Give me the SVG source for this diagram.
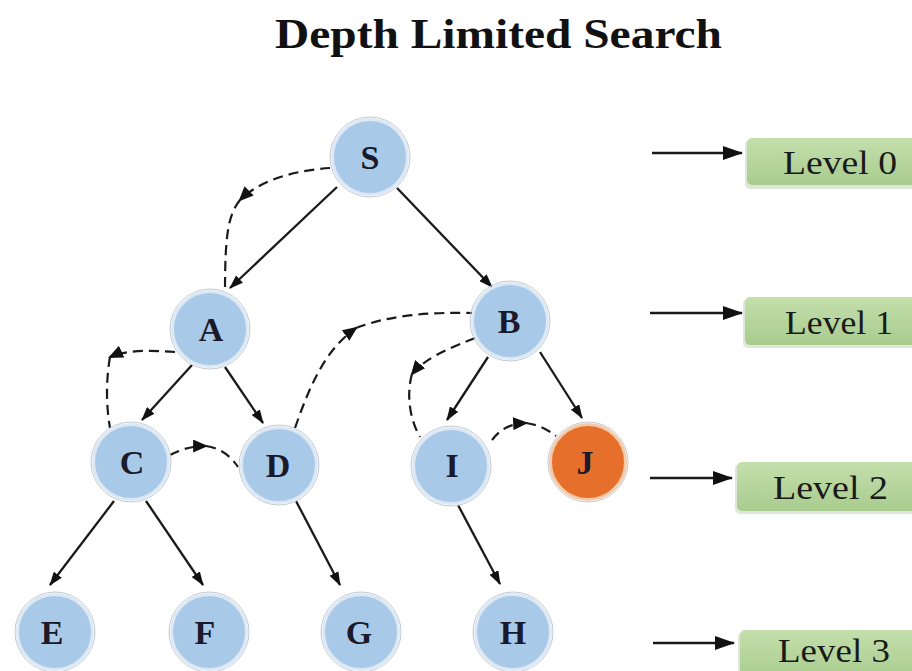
<svg xmlns="http://www.w3.org/2000/svg" width="912" height="671" viewBox="0 0 912 671">
<defs>
<marker id="ah" viewBox="0 0 14 10" refX="13" refY="5" markerWidth="14" markerHeight="10" markerUnits="userSpaceOnUse" orient="auto">
<path d="M0,0 L14,5 L0,10 Z" fill="#111"/>
</marker>
<marker id="ahl" viewBox="0 0 20 14" refX="19" refY="7" markerWidth="20" markerHeight="14" markerUnits="userSpaceOnUse" orient="auto">
<path d="M0,0 L20,7 L0,14 Z" fill="#111"/>
</marker>
<marker id="ahd" viewBox="0 0 14 12" refX="12" refY="6" markerWidth="15" markerHeight="13" markerUnits="userSpaceOnUse" orient="auto">
<path d="M0,0 L14,6 L0,12 Z" fill="#111"/>
</marker>
<linearGradient id="green" x1="0" y1="0" x2="0" y2="1">
<stop offset="0" stop-color="#c4dfac"/>
<stop offset="1" stop-color="#a8cc8e"/>
</linearGradient>
</defs>
<style>
.node circle.fill{fill:#a9c9e9;stroke:#dce8f4;stroke-width:3}
.node circle.rim{fill:none;stroke:#c3cad2;stroke-width:1}
.node.goal circle.fill{fill:#e66f2b;stroke:#f3c9a8}
.node text{font-family:"Liberation Serif","Times New Roman",serif;font-weight:bold;font-size:34px;fill:#1a1a2a;text-anchor:middle}
.edge{fill:none;stroke:#1a1a1a;stroke-width:2.3}
.dash{fill:none;stroke:#1a1a1a;stroke-width:2.2;stroke-dasharray:10 6}
.lvl rect.box{fill:url(#green)}
.lvl rect.sh{fill:#dfe6da}
.lvl text{font-family:"Liberation Serif","Times New Roman",serif;font-size:34px;fill:#1a1a1a}
.title{font-family:"Liberation Serif","Times New Roman",serif;font-weight:bold;font-size:42px;fill:#111}
</style>
<rect width="912" height="671" fill="#ffffff"/>
<text class="title" x="275" y="48" textLength="447" lengthAdjust="spacingAndGlyphs">Depth Limited Search</text>

<g id="connectors">
<path class="edge" d="M337,187 L230,288" marker-end="url(#ah)"/>
<path class="edge" d="M397,188 L492,287" marker-end="url(#ah)"/>
<path class="edge" d="M192,365 L142,420" marker-end="url(#ah)"/>
<path class="edge" d="M225,367 L263,423" marker-end="url(#ah)"/>
<path class="edge" d="M488,357 L447,420" marker-end="url(#ah)"/>
<path class="edge" d="M540,352 L582,418" marker-end="url(#ah)"/>
<path class="edge" d="M114,501 L50,585" marker-end="url(#ah)"/>
<path class="edge" d="M146,501 L203,585" marker-end="url(#ah)"/>
<path class="edge" d="M296,501 L340,585" marker-end="url(#ah)"/>
<path class="edge" d="M458,505 L500,584" marker-end="url(#ah)"/>
<path class="edge" d="M652,153 L742,153" marker-end="url(#ahl)"/>
<path class="edge" d="M650,313 L742,313" marker-end="url(#ahl)"/>
<path class="edge" d="M650,478 L732,478" marker-end="url(#ahl)"/>
<path class="edge" d="M653,643 L734,643" marker-end="url(#ahl)"/>
<path class="dash" d="M330,168 C300,170 262,178 240,200" marker-end="url(#ahd)"/>
<path class="dash" d="M240,200 C228,215 225,235 225,292"/>
<path class="dash" d="M175,352 C150,350 125,350 110,357" marker-end="url(#ahd)"/>
<path class="dash" d="M110,357 C106,380 106,405 110,428"/>
<path class="dash" d="M170,455 C180,450 190,446 206,446" marker-end="url(#ahd)"/>
<path class="dash" d="M206,446 C222,448 232,458 238,467"/>
<path class="dash" d="M295,428 C310,385 325,350 356,328" marker-end="url(#ahd)"/>
<path class="dash" d="M356,328 C390,315 430,312 472,313"/>
<path class="dash" d="M475,338 C450,348 425,358 412,374" marker-end="url(#ahd)"/>
<path class="dash" d="M412,374 C406,395 410,420 420,437"/>
<path class="dash" d="M492,440 C500,430 508,424 526,423" marker-end="url(#ahd)"/>
<path class="dash" d="M526,423 C540,425 548,430 556,436"/>
</g>

<g id="node-S" class="node"><circle class="rim" cx="370" cy="157" r="40"/><circle class="fill" cx="370" cy="157" r="37.5"/><text x="370" y="169">S</text></g>
<g id="node-A" class="node"><circle class="rim" cx="210" cy="329" r="40"/><circle class="fill" cx="210" cy="329" r="37.5"/><text x="211" y="341">A</text></g>
<g id="node-B" class="node"><circle class="rim" cx="510" cy="321" r="40"/><circle class="fill" cx="510" cy="321" r="37.5"/><text x="509" y="333">B</text></g>
<g id="node-C" class="node"><circle class="rim" cx="131" cy="462" r="40"/><circle class="fill" cx="131" cy="462" r="37.5"/><text x="132" y="474">C</text></g>
<g id="node-D" class="node"><circle class="rim" cx="279" cy="465" r="40"/><circle class="fill" cx="279" cy="465" r="37.5"/><text x="278" y="477">D</text></g>
<g id="node-I" class="node"><circle class="rim" cx="451" cy="466" r="40"/><circle class="fill" cx="451" cy="466" r="37.5"/><text x="452" y="477">I</text></g>
<g id="node-J" class="node goal"><circle class="rim" cx="588" cy="462" r="40"/><circle class="fill" cx="588" cy="462" r="37.5"/><text x="585" y="474">J</text></g>
<g id="node-E" class="node"><circle class="rim" cx="55" cy="632" r="40"/><circle class="fill" cx="55" cy="632" r="37.5"/><text x="52" y="644">E</text></g>
<g id="node-F" class="node"><circle class="rim" cx="209" cy="632" r="40"/><circle class="fill" cx="209" cy="632" r="37.5"/><text x="205" y="644">F</text></g>
<g id="node-G" class="node"><circle class="rim" cx="361" cy="632" r="40"/><circle class="fill" cx="361" cy="632" r="37.5"/><text x="359" y="644">G</text></g>
<g id="node-H" class="node"><circle class="rim" cx="513" cy="632" r="40"/><circle class="fill" cx="513" cy="632" r="37.5"/><text x="513" y="644">H</text></g>

<g id="level-0" class="lvl"><rect class="sh" x="745" y="140" width="180" height="49" rx="5"/><rect class="box" x="747" y="138" width="180" height="47" rx="5"/><text x="783" y="174" textLength="114" lengthAdjust="spacingAndGlyphs">Level 0</text></g>
<g id="level-1" class="lvl"><rect class="sh" x="743" y="299" width="180" height="49" rx="5"/><rect class="box" x="745" y="297" width="180" height="48" rx="5"/><text x="785" y="334" textLength="108" lengthAdjust="spacingAndGlyphs">Level 1</text></g>
<g id="level-2" class="lvl"><rect class="sh" x="735" y="464" width="180" height="50" rx="5"/><rect class="box" x="737" y="462" width="180" height="49" rx="5"/><text x="773" y="499" textLength="115" lengthAdjust="spacingAndGlyphs">Level 2</text></g>
<g id="level-3" class="lvl"><rect class="sh" x="738" y="632" width="180" height="50" rx="5"/><rect class="box" x="740" y="630" width="180" height="50" rx="5"/><text x="778" y="662" font-size="31" textLength="112" lengthAdjust="spacingAndGlyphs">Level 3</text></g>
</svg>
